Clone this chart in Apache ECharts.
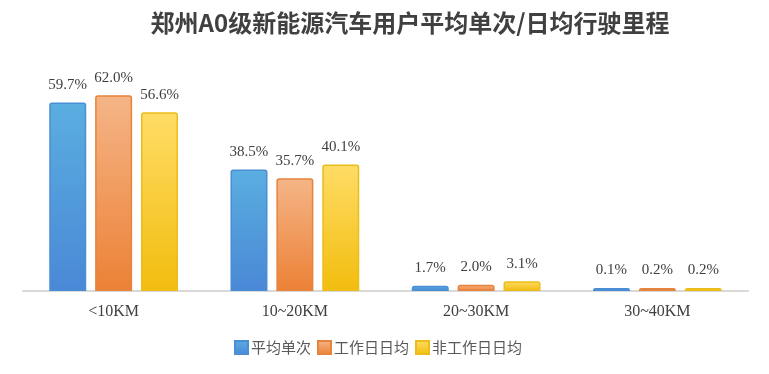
<!DOCTYPE html>
<html><head><meta charset="utf-8">
<script src="https://cdn.jsdelivr.net/npm/echarts@6/dist/echarts.min.js"></script>
<style>html,body{margin:0;padding:0;background:#fff}#c{width:769px;height:374px}</style>
</head><body><div id="c"></div>
<script>
const categories = ['<10KM', '10~20KM', '20~30KM', '30~40KM'];
const seriesNames = ['平均单次', '工作日日均', '非工作日日均'];
const avgSingle = [59.7, 38.5, 1.7, 0.1];
const workdayAvg = [62.0, 35.7, 2.0, 0.2];
const nonWorkdayAvg = [56.6, 40.1, 3.1, 0.2];

const grads = [
  ['#5aaee0', '#4a88d6', '#4a8ed6'],
  ['#f5b587', '#ec8136', '#e6843e'],
  ['#ffdc66', '#f2bd0e', '#ebbd1a']
];
function mk(name, data, g) {
  return {
    name: name, type: 'bar', data: data, barWidth: 37, barGap: '24%', barMinHeight: 3,
    itemStyle: {
      color: new echarts.graphic.LinearGradient(0, 0, 0, 1, [{offset: 0, color: g[0]}, {offset: 1, color: g[1]}]),
      borderColor: g[2], borderWidth: 1.5, borderRadius: [2, 2, 0, 0]
    },
    label: {
      show: true, position: 'top', distance: 10,
      formatter: p => p.value.toFixed(1) + '%',
      fontFamily: 'Liberation Serif', fontSize: 15, color: '#404040'
    }
  };
}
const chart = echarts.init(document.getElementById('c'));
chart.setOption({
  animation: false,
  title: {
    text: '郑州A0级新能源汽车用户平均单次/日均行驶里程', left: 405, top: 6, textAlign: 'center',
    textStyle: {fontFamily: 'Noto Sans CJK SC', fontWeight: 'bold', fontSize: 24, color: '#404040'}
  },
  legend: {
    data: seriesNames, left: 234, top: 340, padding: 0, itemWidth: 13, itemHeight: 13, itemGap: 6,
    icon: 'rect',
    textStyle: {fontFamily: 'Noto Sans CJK SC', fontSize: 15, color: '#595959', padding: [0, 0, 0, -2]}
  },
  grid: {left: 23, right: 21, top: 70, bottom: 83},
  xAxis: {
    type: 'category', data: categories,
    axisLine: {lineStyle: {color: '#d9d9d9', width: 2}},
    axisTick: {show: false},
    axisLabel: {fontFamily: 'Liberation Serif', fontSize: 16, color: '#404040', margin: 13}
  },
  yAxis: {type: 'value', min: 0, max: 70, show: false, splitLine: {show: false}},
  series: [mk(seriesNames[0], avgSingle, grads[0]), mk(seriesNames[1], workdayAvg, grads[1]), mk(seriesNames[2], nonWorkdayAvg, grads[2])]
});
</script></body></html>
